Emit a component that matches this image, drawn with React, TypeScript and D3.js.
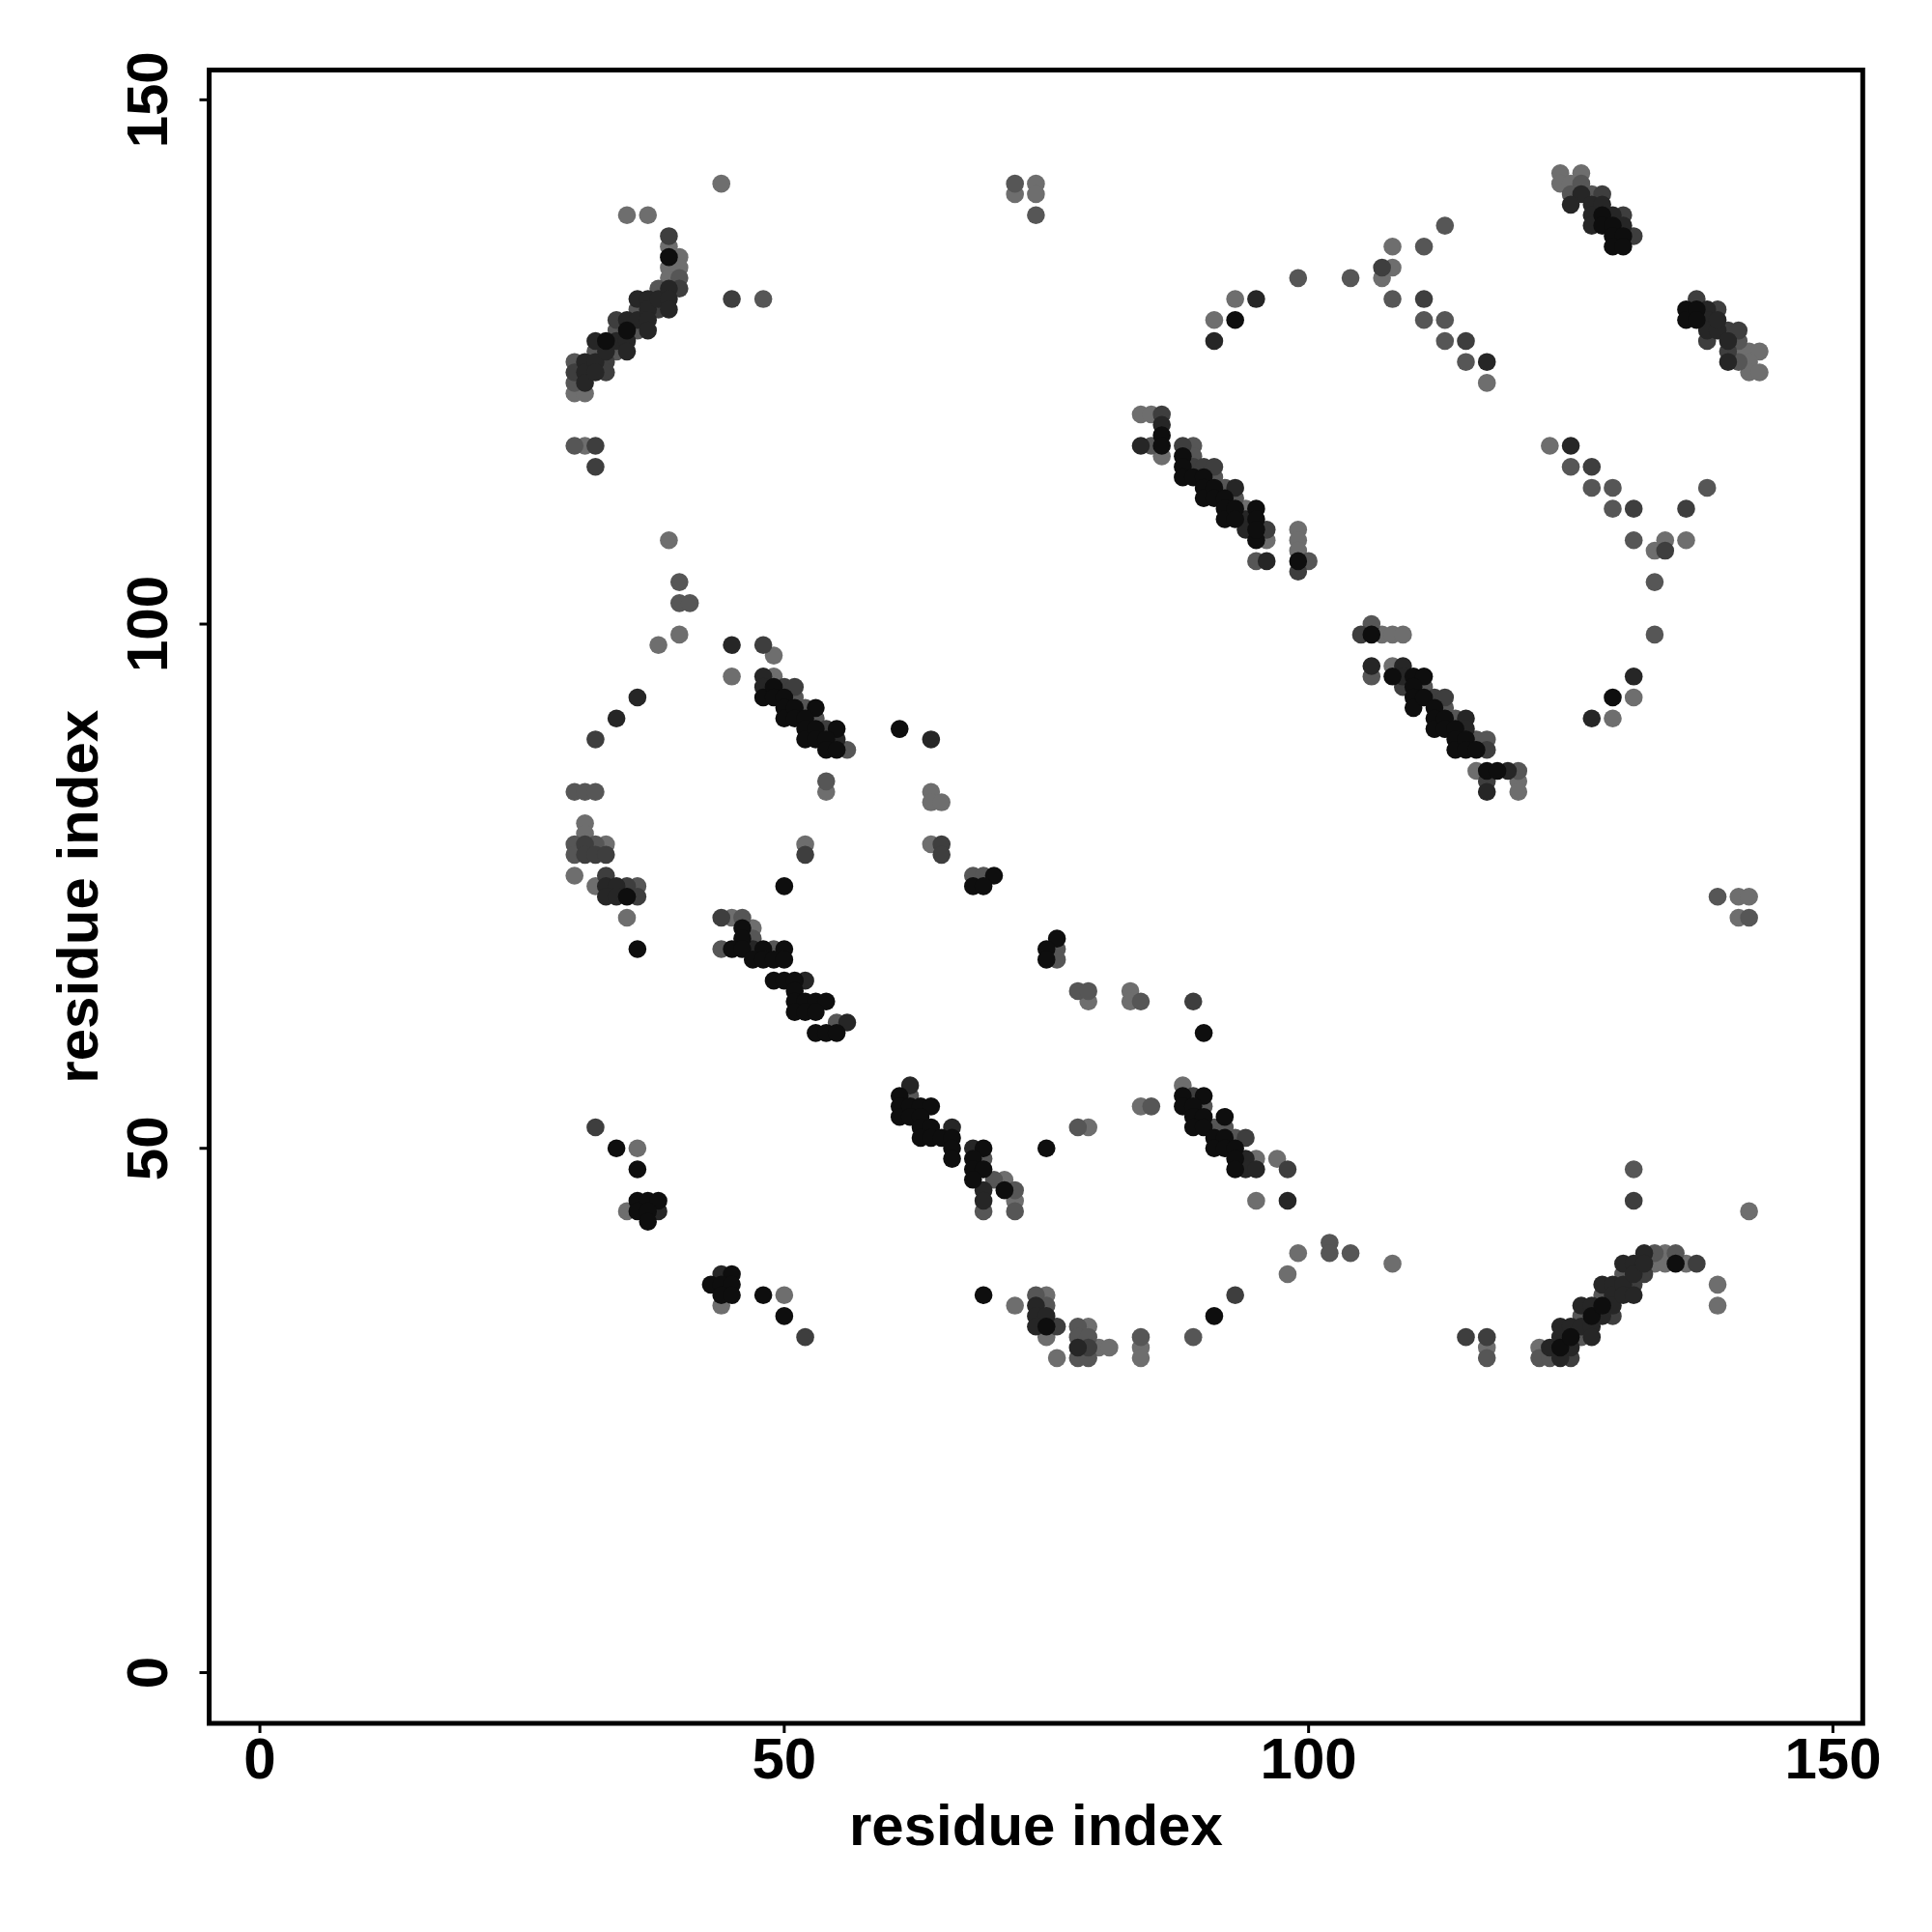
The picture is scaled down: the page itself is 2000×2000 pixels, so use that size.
import React from "react";
import * as d3 from "d3";

// contact points: [residue i, residue j, shade level 1 (light) .. 5 (black)]
const topLeftBand: number[][] = [
  [30,125,2],[30,124,3],[30,123,2],[30,122,1],
  [31,125,4],[31,124,4],[31,123,4],[31,122,1],
  [32,127,4],[32,126,2],[32,125,4],[32,124,4],
  [33,127,5],[33,126,4],[33,125,3],[33,124,3],
  [34,129,3],[34,128,2],[34,127,4],[34,126,2],
  [35,129,4],[35,128,5],[35,127,4],[35,126,4],
  [36,131,4],[36,130,2],[36,129,4],[36,128,2],
  [37,131,4],[37,130,4],[37,129,4],[37,128,4],
  [38,132,2],[38,131,4],[38,130,3],
  [39,137,3],[39,136,1],[39,135,5],[39,134,1],[39,133,1],[39,132,4],[39,131,4],[39,130,4],
  [40,135,1],[40,134,1],[40,133,2],[40,132,3],
];
const topLeftScatter: number[][] = [
  [35,139,1],[37,139,1],[44,142,1],[45,131,3],[48,131,2],
  [30,117,2],[31,117,1],[32,117,3],[32,115,3],[39,108,1],
];
const topMidScatter: number[][] = [
  [72,142,2],[72,141,1],[74,142,1],[74,141,1],[74,139,2],
  [99,133,2],[104,133,2],[93,131,1],[95,131,4],[91,129,1],[93,129,5],[91,127,4],
];
const centralBand: number[][] = [
  [84,120,1],[85,120,1],[86,120,3],[86,119,4],[86,118,5],[84,117,4],[85,117,2],[86,117,5],[86,116,1],
  [88,117,3],[89,117,2],[88,116,5],[88,115,5],[88,114,5],[89,116,2],[89,115,3],[89,114,5],
  [90,115,3],[91,115,3],[90,114,5],[90,113,5],[90,112,5],[91,114,2],[91,113,5],[91,112,5],
  [92,113,2],[93,113,4],[92,112,5],[92,111,5],[92,110,5],[93,112,2],[93,111,5],[93,110,5],
  [94,111,1],[95,111,5],[95,110,5],[94,110,4],[94,109,4],[96,109,3],[96,108,1],[95,108,5],[95,109,5],
  [95,106,2],[96,106,4],[99,109,1],[99,108,1],[99,107,1],[99,106,5],[100,106,2],[99,105,3],
];
const upperRightArc: number[][] = [
  [113,138,2],[108,136,1],[111,136,2],[107,134,3],[108,134,1],[107,133,1],[108,131,2],[111,131,3],
  [111,129,2],[113,129,2],[113,127,2],[115,127,3],[115,125,2],[117,125,4],[117,123,1],
];
const topRightBand: number[][] = [
  [124,143,1],[126,143,1],[124,142,1],[125,142,1],[126,142,2],[125,141,2],[126,141,4],[127,141,2],
  [128,141,3],[125,140,4],[127,140,4],[128,140,4],[127,139,4],[128,139,5],[129,139,4],[130,139,3],
  [127,138,4],[128,138,5],[129,138,5],[130,138,4],[129,137,5],[130,137,5],[131,137,3],[129,136,5],[130,136,5],
];
const rightBand: number[][] = [
  [137,131,3],[136,130,5],[136,129,5],[137,130,5],[137,129,5],[138,130,4],[139,130,3],[138,129,4],
  [138,128,4],[138,127,3],[139,128,4],[139,129,4],[140,128,3],[141,128,3],[140,127,4],[140,126,3],
  [140,125,4],[141,127,2],[141,126,1],[141,125,2],[142,126,1],[143,126,1],[142,125,1],[142,124,1],[143,124,1],
];
const rightArc: number[][] = [
  [123,117,1],[125,117,4],[125,115,2],[127,115,3],[127,113,2],[129,113,2],[129,111,2],[131,111,3],
  [131,108,2],[133,107,1],[134,108,1],[134,107,3],[136,111,3],[136,108,1],[138,113,2],
  [133,104,2],[133,99,2],[131,95,4],[129,93,5],[131,93,1],[127,91,4],[129,91,1],
];
const leftArc: number[][] = [
  [40,104,2],[40,102,2],[41,102,2],[40,99,1],[38,98,1],
  [36,93,4],[34,91,4],[32,89,3],
  [30,84,2],[31,84,2],[32,84,2],
  [31,81,1],[31,80,1],[30,79,2],[31,79,3],[32,79,2],[33,79,1],[30,78,2],[31,78,3],[32,78,3],[33,78,3],
  [30,76,1],[32,75,1],[33,76,3],[33,75,4],[34,75,4],[35,75,3],[36,75,2],[33,74,4],[34,74,4],[35,74,5],[36,74,3],
  [35,72,1],[36,69,5],
];
const midScatter: number[][] = [
  [50,75,5],[52,79,1],[52,78,3],[54,85,2],[54,84,1],[61,90,5],[64,89,4],[64,84,1],[64,83,1],[65,83,1],
  [64,79,1],[65,79,3],[65,78,3],
  [68,76,2],[69,76,2],[70,76,5],[68,75,5],[69,75,5],[76,70,5],[75,69,5],[76,69,2],[75,68,5],[76,68,2],
  [78,65,2],[79,65,2],[79,64,1],[83,65,1],[83,64,1],[84,64,2],[89,64,3],[90,61,5],
  [84,54,1],[85,54,2],[78,52,2],[79,52,1],[75,50,5],
];
const leftMidBand: number[][] = [
  [45,98,4],[48,98,3],[49,97,1],[45,95,1],[48,95,4],[49,95,1],[48,94,4],[48,93,5],[49,94,5],[49,93,5],
  [50,94,3],[51,94,3],[50,93,5],[50,92,5],[50,91,5],[51,93,2],[51,92,5],[51,91,5],[52,92,2],[53,92,5],
  [52,91,5],[52,90,5],[52,89,5],[53,91,2],[53,90,5],[53,89,5],[54,90,3],[55,90,5],[54,89,5],[54,88,5],
  [55,89,4],[55,88,5],[56,88,2],
];
const lowerLeftBand: number[][] = [
  [44,72,3],[45,72,1],[46,72,2],[46,71,5],[47,71,1],[47,70,2],[46,70,5],
  [44,69,2],[45,69,5],[46,69,5],[47,69,4],[48,69,5],[49,69,2],[50,69,5],
  [47,68,5],[48,68,5],[49,68,5],[50,68,5],
  [49,66,5],[50,66,5],[51,66,5],[52,66,4],[51,65,5],
  [51,64,5],[52,64,5],[53,64,5],[54,64,5],[51,63,5],[52,63,5],[53,63,5],
  [55,62,2],[56,62,4],[53,61,5],[54,61,5],[55,61,5],
];
const rightMidBand: number[][] = [
  [105,99,3],[106,99,5],[106,100,2],[106,96,4],[106,95,2],
  [107,99,1],[108,99,1],[109,99,1],
  [108,96,1],[109,96,4],[108,95,5],[109,95,4],[110,95,5],[111,95,5],[109,94,3],[110,94,5],[110,93,5],
  [110,92,5],[111,94,2],[111,93,5],[112,93,3],[113,93,3],[112,92,5],[112,91,5],[112,90,5],[113,92,2],
  [114,91,2],[113,91,5],[113,90,5],[115,91,4],[114,90,5],[114,89,5],[114,88,5],[115,90,4],[115,89,5],
  [115,88,5],[116,89,2],[117,89,2],[117,88,3],[116,88,5],
  [116,86,1],[117,86,5],[118,86,5],[119,86,4],[120,86,2],[117,85,3],[117,84,4],[120,85,1],[120,84,1],
];
const farRight: number[][] = [
  [139,74,2],[141,74,1],[142,74,1],[141,72,1],[142,72,2],
  [131,48,2],[131,45,3],[142,44,1],[139,37,1],[139,35,1],[108,39,1],
  [115,32,3],[117,32,3],[117,31,1],[117,30,2],
];
const lowerLeftScatter: number[][] = [
  [32,52,3],[34,50,5],[36,50,1],[36,48,5],[35,44,1],[36,45,5],[37,45,5],[38,45,5],[36,44,5],[37,44,5],
  [38,44,4],[37,43,5],
  [43,37,5],[44,38,4],[45,38,5],[44,37,5],[45,37,5],[44,36,5],[45,36,5],[44,35,1],[48,36,5],[50,36,1],
  [50,34,5],[52,32,3],
];
const lowerMidBand: number[][] = [
  [62,56,4],[62,55,2],[61,55,5],[61,54,5],[61,53,5],[62,54,5],[63,54,5],[64,54,5],[62,53,5],[63,53,5],
  [63,52,5],[64,52,5],[63,51,5],[64,51,5],[65,51,5],[66,52,4],[66,51,5],[66,50,5],[66,49,5],
  [68,50,4],[69,50,5],[68,49,5],[69,49,2],[68,48,5],[69,48,5],[68,47,5],[70,47,2],[71,47,1],
  [69,46,4],[71,46,5],[72,46,2],[69,45,4],[72,45,1],[69,44,2],[72,44,2],
];
const centerRightBand: number[][] = [
  [88,56,1],[88,55,5],[89,55,3],[90,55,5],[88,54,5],[89,54,5],[90,54,2],[89,53,5],[90,53,5],[92,53,5],
  [89,52,5],[90,52,5],[91,52,2],[92,52,2],[91,51,5],[92,51,5],[93,51,2],[94,51,3],[91,50,5],[92,50,5],
  [93,50,5],[93,49,5],[94,49,4],[95,49,1],[93,48,5],[94,48,4],[95,48,4],[97,49,1],[98,48,3],[95,45,1],[98,45,4],
];
const bottomArc: number[][] = [
  [99,40,1],[102,41,2],[102,40,2],[104,40,2],[98,38,1],[93,36,3],[91,34,5],[89,32,2],
  [69,36,5],[72,35,1],[74,36,2],[75,36,1],[74,35,4],[75,35,2],[74,34,4],[75,34,4],[74,33,4],[75,33,5],
  [76,33,3],[75,32,1],[76,30,1],
  [78,33,2],[79,33,1],[78,32,2],[79,32,2],[78,31,4],[79,31,3],[80,31,1],[81,31,1],[78,30,2],[79,30,2],
  [84,32,2],[84,31,1],[84,30,1],
];
const bottomRightBand: number[][] = [
  [122,31,1],[122,30,2],[123,31,4],[123,30,2],[124,32,4],[124,31,5],[124,30,4],[124,33,4],
  [125,33,4],[125,32,5],[125,31,4],[125,30,3],
  [126,35,4],[126,34,2],[126,33,4],[126,32,2],[127,35,4],[127,34,5],[127,33,4],[127,32,4],
  [128,37,4],[128,36,2],[128,35,5],[128,34,4],[129,37,4],[129,36,4],[129,35,4],[129,34,3],
  [130,39,4],[130,38,2],[130,37,4],[130,36,4],[131,39,4],[131,38,4],[131,37,3],[131,36,4],
  [132,40,4],[132,39,4],[132,38,3],[133,40,2],[133,39,1],[134,40,1],[134,39,1],[135,40,2],[135,39,5],
  [136,39,1],[137,39,3],
];

const xTicks = [0, 50, 100, 150];
const yTicks = [0, 50, 100, 150];
const axisTitle = "residue index";

const allPoints = [
  ...topLeftBand, ...topLeftScatter, ...topMidScatter, ...centralBand, ...upperRightArc,
  ...topRightBand, ...rightBand, ...rightArc, ...leftArc, ...midScatter, ...leftMidBand,
  ...lowerLeftBand, ...rightMidBand, ...farRight, ...lowerLeftScatter, ...lowerMidBand,
  ...centerRightBand, ...bottomArc, ...bottomRightBand,
];

export default function App() {
  const x = d3.scaleLinear().domain([-4.84, 152.84]).range([216.5, 1928.3]);
  const y = d3.scaleLinear().domain([-4.84, 152.84]).range([1784, 72.5]);
  const shade = d3.scaleLinear<string>().domain([1, 5]).range(["#6e6e6e", "#0e0e0e"]);
  const pts = [...allPoints].sort((a, b) => a[2] - b[2]);
  const font = "'Liberation Sans', Arial, Helvetica, sans-serif";
  const [x0, x1] = x.range();
  const [y0, y1] = y.range();
  return (
    <svg width={2000} height={2000} style={{ position: "absolute", left: 0, top: 0, background: "#fff" }}>
      <rect x={0} y={0} width={2000} height={2000} fill="#fff" />
      <g>
        {pts.map((p, i) => (
          <circle key={i} cx={x(p[0])} cy={y(p[1])} r={9.3} fill={shade(p[2])} />
        ))}
      </g>
      <rect x={x0} y={y1} width={x1 - x0} height={y0 - y1} fill="none" stroke="#000" strokeWidth={5} />
      {xTicks.map((t) => (
        <g key={"xt" + t}>
          <line x1={x(t)} x2={x(t)} y1={y0} y2={y0 + 10} stroke="#000" strokeWidth={3} />
          <text x={x(t)} y={1841} textAnchor="middle" fontFamily={font} fontWeight="bold" fontSize={60}>{t}</text>
        </g>
      ))}
      {yTicks.map((t) => (
        <g key={"yt" + t}>
          <line x1={x0 - 10} x2={x0} y1={y(t)} y2={y(t)} stroke="#000" strokeWidth={3} />
          <text transform={`translate(173,${y(t)}) rotate(-90)`} textAnchor="middle" fontFamily={font} fontWeight="bold" fontSize={60}>{t}</text>
        </g>
      ))}
      <text x={(x0 + x1) / 2} y={1910} textAnchor="middle" fontFamily={font} fontWeight="bold" fontSize={60}>{axisTitle}</text>
      <text transform={`translate(101,${(y0 + y1) / 2}) rotate(-90)`} textAnchor="middle" fontFamily={font} fontWeight="bold" fontSize={60}>{axisTitle}</text>
    </svg>
  );
}
